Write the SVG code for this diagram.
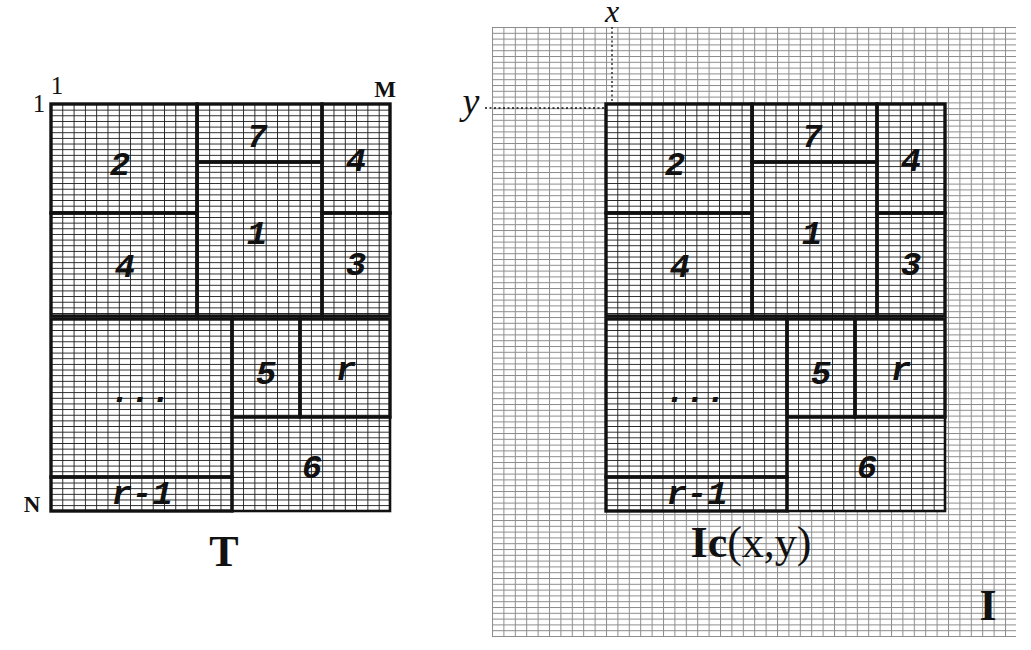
<svg xmlns="http://www.w3.org/2000/svg" width="1031" height="650" viewBox="0 0 1031 650">
<defs>
<pattern id="gk" patternUnits="userSpaceOnUse" x="51" y="104" width="11.3" height="5.65">
<rect x="0" y="0" width="11.3" height="0.9" fill="#1a1a1a"/>
<rect x="0" y="0" width="0.9" height="5.65" fill="#1a1a1a"/>
</pattern>
<pattern id="gk2" patternUnits="userSpaceOnUse" x="606" y="104" width="11.3" height="5.65">
<rect x="0" y="0" width="11.3" height="0.9" fill="#1a1a1a"/>
<rect x="0" y="0" width="0.9" height="5.65" fill="#1a1a1a"/>
</pattern>
<pattern id="gg" patternUnits="userSpaceOnUse" x="492" y="27" width="11.4" height="5.8">
<rect x="0" y="0" width="11.4" height="1" fill="#8c8c8c"/>
<rect x="0" y="0" width="1" height="5.8" fill="#8c8c8c"/>
</pattern>
</defs>
<style>
.cell{fill:none;stroke:#111;stroke-width:3.4}
.thin{stroke-width:2.6}
.lab{font-family:"Liberation Mono",monospace;font-weight:bold;font-style:italic;font-size:34px;fill:#111;text-anchor:middle}
.ser{font-family:"Liberation Serif",serif;fill:#111}
.dot{fill:none;stroke:#111;stroke-width:1.3;stroke-dasharray:2 2.5}
</style>
<rect width="1031" height="650" fill="#fff"/>

<!-- background image I -->
<g id="image-I">
<rect x="492" y="27" width="524" height="610" fill="url(#gg)"/>
<text class="ser" x="988" y="620" font-size="44" font-weight="bold" text-anchor="middle">I</text>
</g>

<!-- template T -->
<g id="template-T">
<rect x="51" y="104" width="339" height="407" fill="#fff"/>
<rect x="51" y="104" width="339" height="407" fill="url(#gk)"/>
<g id="T-c2"><rect class="cell" x="51" y="104" width="146" height="109"/><text class="lab" x="120" y="175">2</text></g>
<g id="T-c4a"><rect class="cell" x="51" y="213" width="146" height="103"/><text class="lab" x="125" y="277">4</text></g>
<g id="T-c7"><rect class="cell" x="197" y="104" width="125" height="58"/><text class="lab" x="257" y="147">7</text></g>
<g id="T-c1"><rect class="cell" x="197" y="162" width="125" height="154"/><text class="lab" x="257" y="244">1</text></g>
<g id="T-c4b"><rect class="cell" x="322" y="104" width="68" height="109"/><text class="lab" x="356" y="171">4</text></g>
<g id="T-c3"><rect class="cell" x="322" y="213" width="68" height="103"/><text class="lab" x="356" y="275">3</text></g>
<g id="T-cdots"><rect class="cell" x="51" y="319" width="181" height="158"/><text class="lab" x="141" y="402">...</text></g>
<g id="T-cr1"><rect class="cell" x="51" y="477" width="181" height="34"/><text class="lab" x="142" y="504">r-1</text></g>
<g id="T-c5"><rect class="cell" x="232" y="319" width="68" height="98"/><text class="lab" x="266" y="384">5</text></g>
<g id="T-cr"><rect class="cell" x="300" y="319" width="90" height="98"/><text class="lab" x="346" y="380">r</text></g>
<g id="T-c6"><rect class="cell thin" x="232" y="417" width="158" height="94"/><text class="lab" x="312" y="478">6</text></g>
<text class="ser" x="39" y="112" font-size="25" text-anchor="middle">1</text>
<text class="ser" x="57" y="94" font-size="25" text-anchor="middle">1</text>
<text class="ser" x="385" y="97" font-size="23" font-weight="bold" text-anchor="middle">M</text>
<text class="ser" x="32" y="512" font-size="23" font-weight="bold" text-anchor="middle">N</text>
<text class="ser" x="224" y="566" font-size="44" font-weight="bold" text-anchor="middle">T</text>
</g>

<!-- placed copy Ic(x,y) -->
<g id="placed-Ic">
<rect x="606" y="104" width="339" height="407" fill="#fff"/>
<rect x="606" y="104" width="339" height="407" fill="url(#gk2)"/>
<g id="I-c2"><rect class="cell" x="606" y="104" width="146" height="109"/><text class="lab" x="675" y="175">2</text></g>
<g id="I-c4a"><rect class="cell" x="606" y="213" width="146" height="103"/><text class="lab" x="680" y="277">4</text></g>
<g id="I-c7"><rect class="cell" x="752" y="104" width="125" height="58"/><text class="lab" x="812" y="147">7</text></g>
<g id="I-c1"><rect class="cell" x="752" y="162" width="125" height="154"/><text class="lab" x="812" y="244">1</text></g>
<g id="I-c4b"><rect class="cell" x="877" y="104" width="68" height="109"/><text class="lab" x="911" y="171">4</text></g>
<g id="I-c3"><rect class="cell" x="877" y="213" width="68" height="103"/><text class="lab" x="911" y="275">3</text></g>
<g id="I-cdots"><rect class="cell" x="606" y="319" width="181" height="158"/><text class="lab" x="696" y="402">...</text></g>
<g id="I-cr1"><rect class="cell" x="606" y="477" width="181" height="34"/><text class="lab" x="697" y="504">r-1</text></g>
<g id="I-c5"><rect class="cell" x="787" y="319" width="68" height="98"/><text class="lab" x="821" y="384">5</text></g>
<g id="I-cr"><rect class="cell" x="855" y="319" width="90" height="98"/><text class="lab" x="901" y="380">r</text></g>
<g id="I-c6"><rect class="cell thin" x="787" y="417" width="158" height="94"/><text class="lab" x="867" y="478">6</text></g>
<text class="ser" x="751" y="557" font-size="44" text-anchor="middle"><tspan font-weight="bold">Ic</tspan>(x,y)</text>
</g>

<!-- connectors: coordinate guides -->
<g id="connectors">
<path class="dot" d="M612 27 V104"/>
<path class="dot" d="M485 108 H606"/>
</g>
<text class="ser" x="612" y="22" font-size="32" font-style="italic" text-anchor="middle">x</text>
<text class="ser" x="471" y="114" font-size="38" font-style="italic" text-anchor="middle">y</text>
</svg>
